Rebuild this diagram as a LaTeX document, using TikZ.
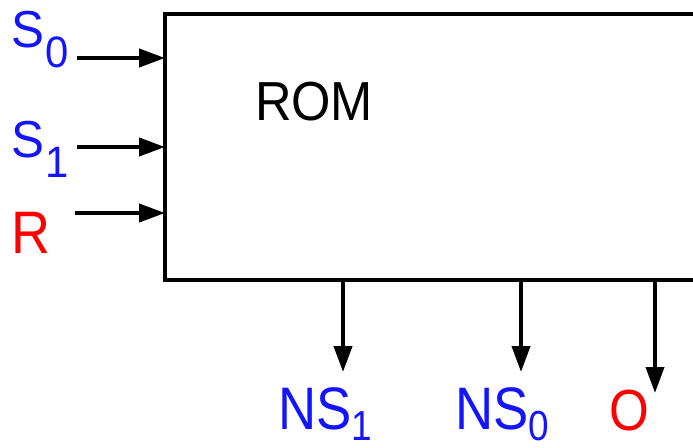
\documentclass[tikz,border=0pt]{standalone}
\usepackage{fontspec}
\setmainfont{Liberation Sans}
\usetikzlibrary{arrows.meta}
\definecolor{lblue}{RGB}{20,20,255}
\definecolor{lred}{RGB}{255,0,0}
\tikzset{
  lbl/.style={inner sep=0pt, outer sep=0pt, anchor=base west},
  sig/.style={line width=4pt, -{Triangle[length=26pt,width=18pt]}},
  blk/.style={draw, line width=4pt, inner sep=0pt, outer sep=0pt, anchor=north west}
}
\newcommand{\inlbl}[2]{\fontsize{52}{52}\selectfont\scalebox{0.95}[1]{#1\kern2pt\raisebox{-20pt}{\fontsize{44}{44}\selectfont #2}}}
\newcommand{\outlbl}[2]{\fontsize{60}{60}\selectfont\scalebox{0.88}[1]{#1\raisebox{-11pt}{\fontsize{42}{42}\selectfont #2}}}
\begin{document}
\begin{tikzpicture}[x=1pt,y=-1pt]
\clip (0,0) rectangle (693,447);
\fill[white] (0,0) rectangle (693,447);
\node[blk, minimum width=560pt, minimum height=266pt] (rom) at (165,14) {};
\node[lbl] (romtxt) at (255,120) {\fontsize{55}{55}\selectfont\scalebox{0.92}[1]{ROM}};
% inputs
\node[lbl, text=lblue] (s0) at (11,47) {\inlbl{S}{0}};
\node[lbl, text=lblue] (s1) at (11,157) {\inlbl{S}{1}};
\node[lbl, text=lred] (r) at (11,253) {\fontsize{60}{60}\selectfont\scalebox{0.9}[1]{R}};
\coordinate (i0) at (77,58);
\coordinate (i1) at (77,147);
\coordinate (i2) at (75,213);
\draw[sig] (i0) -- (i0 -| rom.west);
\draw[sig] (i1) -- (i1 -| rom.west);
\draw[sig] (i2) -- (i2 -| rom.west);
% outputs
\coordinate (o1) at (343,372);
\coordinate (o0) at (521,372);
\coordinate (oo) at (655,393);
\draw[sig] (o1 |- rom.south) -- (o1);
\draw[sig] (o0 |- rom.south) -- (o0);
\draw[sig] (oo |- rom.south) -- (oo);
\node[lbl, text=lblue] (ns1) at (278,429) {\outlbl{NS}{1}};
\node[lbl, text=lblue] (ns0) at (455,429) {\outlbl{NS}{0}};
\node[lbl, text=lred] (ot) at (609,430) {\fontsize{58}{58}\selectfont\scalebox{0.88}[1]{O}};
\end{tikzpicture}
\end{document}
